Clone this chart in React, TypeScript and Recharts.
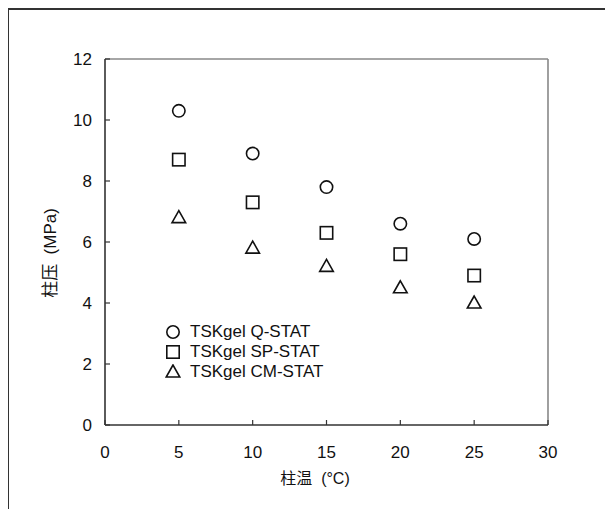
import React from 'react';
import { ScatterChart, Scatter, XAxis, YAxis, ReferenceLine, Legend } from 'recharts';

const temps = [5, 10, 15, 20, 25];
const qStat = [10.3, 8.9, 7.8, 6.6, 6.1];
const spStat = [8.7, 7.3, 6.3, 5.6, 4.9];
const cmStat = [6.8, 5.8, 5.2, 4.5, 4.0];
const xTicks = [0, 5, 10, 15, 20, 25, 30];
const yTicks = [0, 2, 4, 6, 8, 10, 12];
const seriesNames = ['TSKgel Q-STAT', 'TSKgel SP-STAT', 'TSKgel CM-STAT'];
const xTitle = '柱温  (°C)';
const yTitle = '柱压  (MPa)';

const toPoints = (ys: number[]) => temps.map((t, i) => ({ x: t, y: ys[i] }));
const qData = toPoints(qStat);
const spData = toPoints(spStat);
const cmData = toPoints(cmStat);

const STROKE = '#111';
const SW = 1.6;

const circleShape = (p: any) => (
  <circle cx={p.cx} cy={p.cy} r={6.2} fill="none" stroke={STROKE} strokeWidth={SW} />
);
const squareShape = (p: any) => (
  <rect x={p.cx - 6.2} y={p.cy - 6.2} width={12.4} height={12.4} fill="none" stroke={STROKE} strokeWidth={SW} />
);
const triangleShape = (p: any) => (
  <polygon
    points={`${p.cx},${p.cy - 7} ${p.cx - 6.8},${p.cy + 5} ${p.cx + 6.8},${p.cy + 5}`}
    fill="none"
    stroke={STROKE}
    strokeWidth={SW}
    strokeLinejoin="miter"
  />
);
const shapes = [circleShape, squareShape, triangleShape];

const FONT = '"Liberation Sans", Arial, "Noto Sans CJK SC", sans-serif';

const LegendContent = () => (
  <div style={{ fontFamily: FONT, fontSize: 17, color: '#111' }}>
    {seriesNames.map((name, i) => (
      <div key={name} style={{ display: 'flex', alignItems: 'center', height: 20 }}>
        <svg width={16} height={16} style={{ marginRight: 9 }}>
          {shapes[i]({ cx: 8, cy: 8 })}
        </svg>
        <span style={{ lineHeight: '20px', whiteSpace: 'nowrap' }}>{name}</span>
      </div>
    ))}
  </div>
);

export default function App() {
  return (
    <div
      style={{
        position: 'relative',
        width: 604,
        height: 499,
        marginLeft: -1,
        borderTop: '2px solid #333',
        borderLeft: '2px solid #333',
      }}
    >
      <div style={{ position: 'absolute', left: -1, top: -2 }}>
        <ScatterChart
          width={605}
          height={501}
          margin={{ top: 51, right: 65, bottom: 54, left: 37 }}
          style={{ fontFamily: FONT }}
        >
          <XAxis
            type="number"
            dataKey="x"
            domain={[0, 30]}
            ticks={xTicks}
            height={30}
            tickSize={-5}
            tickMargin={26}
            axisLine={{ stroke: '#333', strokeWidth: 1.6 }}
            tickLine={{ stroke: '#333', strokeWidth: 1.2 }}
            tick={{ fill: '#111', fontSize: 17 }}
            allowDataOverflow
          />
          <YAxis
            type="number"
            dataKey="y"
            domain={[0, 12]}
            ticks={yTicks}
            width={60}
            tickSize={-5}
            tickMargin={18}
            axisLine={{ stroke: '#333', strokeWidth: 1.6 }}
            tickLine={{ stroke: '#333', strokeWidth: 1.2 }}
            tick={{ fill: '#111', fontSize: 17 }}
            allowDataOverflow
          />
          <ReferenceLine y={12} stroke="#888" strokeWidth={1.6} />
          <ReferenceLine x={30} stroke="#888" strokeWidth={1.6} />
          <Legend
            layout="vertical"
            align="center"
            verticalAlign="middle"
            content={LegendContent}
            wrapperStyle={{ left: 157, top: 314, width: 'auto', height: 'auto' }}
          />
          <Scatter name={seriesNames[0]} data={qData} shape={circleShape} isAnimationActive={false} />
          <Scatter name={seriesNames[1]} data={spData} shape={squareShape} isAnimationActive={false} />
          <Scatter name={seriesNames[2]} data={cmData} shape={triangleShape} isAnimationActive={false} />
        </ScatterChart>
        <div
          style={{
            position: 'absolute',
            left: 307,
            top: 469,
            transform: 'translate(-50%, -50%)',
            whiteSpace: 'pre',
            fontFamily: FONT,
            fontSize: 16,
            color: '#111',
          }}
        >
          {xTitle}
        </div>
        <div
          style={{
            position: 'absolute',
            left: 40,
            top: 245,
            transform: 'translate(-50%, -50%) rotate(-90deg)',
            whiteSpace: 'pre',
            fontFamily: FONT,
            fontSize: 17,
            color: '#111',
          }}
        >
          {yTitle}
        </div>
      </div>
    </div>
  );
}
